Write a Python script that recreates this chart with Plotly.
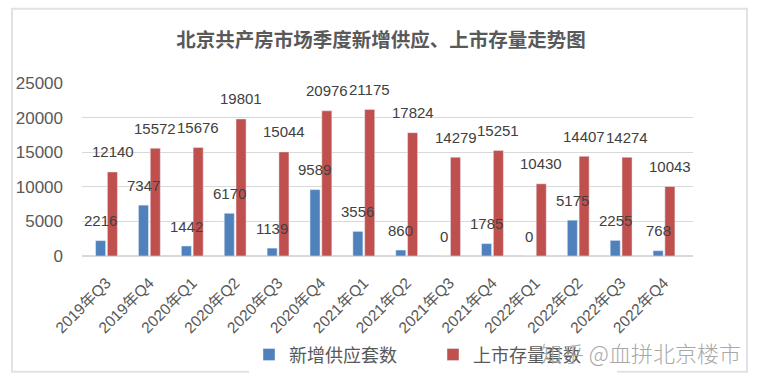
import plotly.graph_objects as go

categories = ["2019年Q3", "2019年Q4", "2020年Q1", "2020年Q2", "2020年Q3", "2020年Q4", "2021年Q1",
              "2021年Q2", "2021年Q3", "2021年Q4", "2022年Q1", "2022年Q2", "2022年Q3", "2022年Q4"]
new_supply = [2216, 7347, 1442, 6170, 1139, 9589, 3556, 860, 0, 1785, 0, 5175, 2255, 768]
listed_stock = [12140, 15572, 15676, 19801, 15044, 20976, 21175, 17824, 14279, 15251, 10430, 14407, 14274, 10043]
series_names = ["新增供应套数", "上市存量套数"]
y_ticks = [0, 5000, 10000, 15000, 20000, 25000]

BLUE = "#4F81BD"
RED = "#C0504D"
FONT = "Liberation Sans, Noto Sans CJK SC, sans-serif"
CJK = "Noto Sans CJK SC, sans-serif"

W, H = 758, 386
L, R, T, B = 82, 65, 83, 128
pw, ph = W - L - R, H - T - B

def px_x(x):
    return (x - L) / pw

def px_y(y):
    return (H - B - y) / ph

fig = go.Figure()
fig.add_trace(go.Bar(x=categories, y=new_supply, name=series_names[0], marker_color=BLUE))
fig.add_trace(go.Bar(x=categories, y=listed_stock, name=series_names[1], marker_color=RED))

annotations = []
for vals, shift in ((new_supply, -6), (listed_stock, 6)):
    for c, v in zip(categories, vals):
        annotations.append(dict(x=c, y=v, xref="x", yref="y", text=str(v), showarrow=False,
                                xshift=shift, yshift=20, yanchor="middle", xanchor="center",
                                font=dict(family=FONT, size=15, color="#404040")))

annotations.append(dict(x=px_x(743), y=px_y(355), xref="paper", yref="paper",
                        text="知乎 @血拼北京楼市", showarrow=False, xanchor="right", yanchor="middle",
                        font=dict(family=CJK, size=22, color="#a8a8a8", weight=300)))

fig.update_layout(
    width=W, height=H,
    margin=dict(l=L, r=R, t=T, b=B),
    paper_bgcolor="white", plot_bgcolor="white",
    barmode="group", bargap=0.45, bargroupgap=0.15,
    title=dict(text="<b>北京共产房市场季度新增供应、上市存量走势图</b>", xref="container", yref="container",
               x=381 / W, y=1 - 40 / H, xanchor="center", yanchor="middle",
               font=dict(family=CJK, size=19.5, color="#595959")),
    xaxis=dict(tickangle=-45, tickfont=dict(family=FONT, size=15.5, color="#595959"),
               showline=False, showgrid=False, ticks="", ticklabelstandoff=14),
    yaxis=dict(range=[0, 25000], tickvals=y_ticks, tickformat="d",
               tickfont=dict(family=FONT, size=17, color="#595959"),
               gridcolor="#d9d9d9", zerolinecolor="#d9d9d9", showline=False, ticklabelstandoff=18),
    showlegend=True,
    legend=dict(orientation="h", x=px_x(249), y=px_y(358), xanchor="left", yanchor="middle",
                font=dict(family=CJK, size=18, color="#595959"), entrywidth=139, entrywidthmode="pixels"),
    annotations=annotations,
    shapes=[dict(type="rect", xref="paper", yref="paper", x0=px_x(12), x1=px_x(747), y0=px_y(375), y1=px_y(8),
                 line=dict(color="#e2e2e2", width=2), layer="below")],
)

fig.write_html("out.html")
